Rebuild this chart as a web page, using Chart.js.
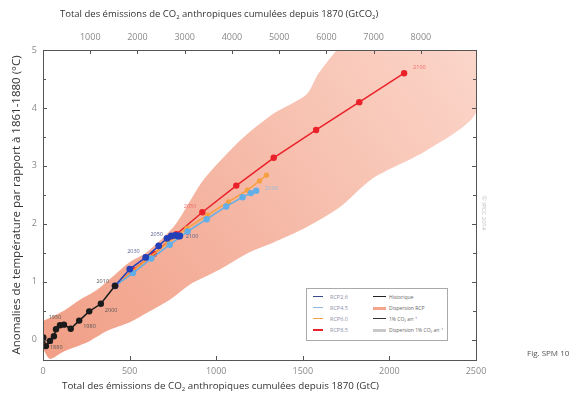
<!DOCTYPE html>
<html><head><meta charset="utf-8">
<script src="https://cdn.jsdelivr.net/npm/chart.js@4/dist/chart.umd.min.js"></script>
<style>
html,body{margin:0;padding:0;background:#fff;}
#wrap{position:relative;width:581px;height:393px;font-family:"Open Sans",sans-serif;overflow:hidden;}
#c{position:absolute;left:0;top:0;}
.ttl{position:absolute;font-size:9.5px;color:#333;white-space:nowrap;}
.ttl sub{font-size:6px;vertical-align:-2px;line-height:0;}
#legend{position:absolute;left:306px;top:288px;width:140px;height:51px;border:1px solid #aaa;background:#fff;font-size:5px;color:#666;}
.li{position:absolute;height:0;}
.lt{position:absolute;white-space:nowrap;line-height:6px;}
#fig{position:absolute;left:527px;top:347px;font-size:8px;color:#555;white-space:nowrap;}
#ipcc{position:absolute;left:478px;top:213px;font-size:6px;color:#bbb;white-space:nowrap;transform:translate(-50%,-50%) rotate(90deg);transform-origin:center;}
</style></head>
<body>
<div id="wrap">
<canvas id="c" width="581" height="393"></canvas>
<div class="ttl" style="left:60px;top:7px;">Total des émissions de CO<sub>2</sub> anthropiques cumulées depuis 1870 (GtCO<sub>2</sub>)</div>
<div class="ttl" style="left:62px;top:379px;font-size:9.8px;">Total des émissions de CO<sub>2</sub> anthropiques cumulées depuis 1870 (GtC)</div>
<div id="fig">Fig. SPM 10</div>
<div id="ipcc" style="left:484px;">© IPCC 2014</div>
<div id="legend"></div>
</div>
<script>
// ---------------- data ----------------
const histX = [2, 17, 40, 63, 75, 98, 121, 160, 209, 267, 334, 416];
const histY = [0.04, -0.11, -0.02, 0.06, 0.18, 0.25, 0.26, 0.19, 0.33, 0.49, 0.62, 0.93];
const histLabels = ['', '1880', '', '', '1950', '', '', '', '1980', '', '2000', '2010'];

const rcp26X = [416, 501, 593, 668, 716, 741, 764, 780, 790];
const rcp26Y = [0.93, 1.22, 1.42, 1.62, 1.75, 1.79, 1.80, 1.79, 1.79];
const rcp26Labels = ['', '', '2030', '', '2050', '', '', '', '2100'];

const rcp45X = [416, 519, 625, 732, 835, 945, 1058, 1152, 1200, 1231];
const rcp45Y = [0.93, 1.15, 1.40, 1.64, 1.87, 2.08, 2.30, 2.46, 2.53, 2.57];
const rcp45Labels = ['', '', '', '', '', '', '', '', '', '2100'];

const rcp60X = [416, 515, 615, 720, 830, 950, 1070, 1180, 1250, 1290];
const rcp60Y = [0.93, 1.18, 1.42, 1.67, 1.92, 2.15, 2.38, 2.58, 2.74, 2.84];

const rcp85X = [416, 520, 640, 770, 920, 1116, 1332, 1577, 1826, 2085];
const rcp85Y = [0.93, 1.20, 1.48, 1.82, 2.20, 2.66, 3.14, 3.62, 4.10, 4.60];
const rcp85Labels = ['', '', '', '', '2050', '', '', '', '', '2100'];

const bandX = [0, 115, 213, 311, 403, 501, 599, 760, 922, 1135, 1325, 1521, 1596, 1780, 2500, 2500,
               2212, 1901, 1711, 1521, 1325, 1192, 1020, 847, 732, 616, 501, 369, 259, 115, 40, 0];
const bandY = [0.32, 0.49, 0.69, 0.86, 1.09, 1.34, 1.51, 1.97, 2.74, 3.43, 3.89, 4.23, 4.62, 5.2, 5.5, 3.92,
               3.26, 2.78, 2.28, 1.94, 1.67, 1.51, 1.21, 0.95, 0.69, 0.49, 0.30, 0.15, -0.04, -0.21, -0.33, -0.16];

const xTicks = [0, 500, 1000, 1500, 2000, 2500];
const topTicks = [1000, 2000, 3000, 4000, 5000, 6000, 7000, 8000];
const yTicks = [0, 1, 2, 3, 4, 5];
const GTC_TO_GTCO2 = 44 / 12;

const legendLeft = [
  {text: 'RCP2.6', color: '#3b4a8c', w: 1.5},
  {text: 'RCP4.5', color: '#8fb8dc', w: 1.5},
  {text: 'RCP6.0', color: '#f5a34a', w: 1.5},
  {text: 'RCP8.5', color: '#e8232b', w: 2}
];
const legendRight = [
  {text: 'Historique', color: '#222', w: 1.5},
  {text: 'Dispersion RCP', color: '#f4a58e', w: 3},
  {text: '1% CO₂ an⁻¹', color: '#333', w: 1},
  {text: 'Dispersion 1% CO₂ an⁻¹', color: '#c8c8c8', w: 3}
];

// ---------------- helpers ----------------
const pts = (xs, ys) => xs.map((x, i) => ({x: x, y: ys[i]}));

// legend (HTML)
(function(){
  const lg = document.getElementById('legend');
  const rows = [7, 18, 29, 40];
  legendLeft.forEach((it, i) => {
    lg.insertAdjacentHTML('beforeend',
      `<div class="li" style="left:6px;top:${rows[i]}px;width:10px;border-top:${it.w}px solid ${it.color}"></div>` +
      `<div class="lt" style="left:23px;top:${rows[i]-2.5}px;font-size:5.5px;color:#8a8fa8">${it.text}</div>`);
  });
  legendRight.forEach((it, i) => {
    lg.insertAdjacentHTML('beforeend',
      `<div class="li" style="left:66px;top:${rows[i]}px;width:13px;border-top:${it.w}px solid ${it.color}"></div>` +
      `<div class="lt" style="left:82px;top:${rows[i]-2.5}px">${it.text}</div>`);
  });
})();

// frame, inward ticks and year labels
const decorPlugin = {
  id: 'decor',
  afterDatasetsDraw(chart) {
    const c = chart.ctx, a = chart.chartArea;
    const sx = chart.scales.x, sy = chart.scales.y, st = chart.scales.x2;
    c.save();
    c.font = '5.5px "Open Sans"';
    c.textBaseline = 'middle';
    const lab = (xs, ys, labels, color, off) => {
      labels.forEach((t, i) => {
        if (!t) return;
        const o = off[t] || [4, 0, 'left'];
        c.fillStyle = color;
        c.textAlign = o[2];
        c.fillText(t, sx.getPixelForValue(xs[i]) + o[0], sy.getPixelForValue(ys[i]) + o[1]);
      });
    };
    lab(histX, histY, histLabels, '#555', {'1880': [4, 1, 'left'], '1950': [-1, -12, 'center'], '1980': [4, 6, 'left'], '2000': [4, 7, 'left'], '2010': [-6, -4, 'right']});
    lab(rcp26X, rcp26Y, rcp26Labels, '#5a5f90', {'2030': [-6, -6, 'right'], '2050': [-4, -4, 'right'], '2100': [6, 0, 'left']});
    lab(rcp45X, rcp45Y, rcp45Labels, '#8cbbe6', {'2100': [9, -2, 'left']});
    lab(rcp85X, rcp85Y, rcp85Labels, '#ee6a6a', {'2050': [-6, -6, 'right'], '2100': [9, -6, 'left']});

    c.strokeStyle = '#555';
    c.lineWidth = 1;
    c.strokeRect(Math.round(a.left) + 0.5, Math.round(a.top) + 0.5, Math.round(a.right - a.left), Math.round(a.bottom - a.top));
    c.beginPath();
    xTicks.forEach(v => { const p = Math.round(sx.getPixelForValue(v)) + 0.5; c.moveTo(p, a.bottom); c.lineTo(p, a.bottom - 4); });
    topTicks.forEach(v => { const p = Math.round(st.getPixelForValue(v)) + 0.5; c.moveTo(p, a.top); c.lineTo(p, a.top + 4); });
    for (let v = 0; v <= 5; v += 0.5) {
      const p = Math.round(sy.getPixelForValue(v)) + 0.5;
      const L = (v % 1 === 0) ? 4 : 3;
      c.moveTo(a.left, p); c.lineTo(a.left + L, p);
      c.moveTo(a.right, p); c.lineTo(a.right - L, p);
    }
    c.stroke();
    c.restore();
  }
};

const line = (label, data, color, order, r) => ({
  label, data, order, showLine: true,
  borderColor: color, backgroundColor: color, borderWidth: 1.5,
  pointRadius: r, pointBorderWidth: 0, pointBackgroundColor: color
});

const tickFont = {family: 'Open Sans', size: 9};
const plain = v => String(v);

new Chart(document.getElementById('c'), {
  type: 'scatter',
  data: {
    datasets: [
      {
        label: 'Dispersion RCP', data: pts(bandX, bandY), order: 10, showLine: true,
        fill: 'shape', tension: 0.25, pointRadius: 0, borderWidth: 0, borderColor: 'rgba(0,0,0,0)',
        backgroundColor: (ctx) => {
          const a = ctx.chart.chartArea;
          if (!a) return 'rgb(245,180,160)';
          const g = ctx.chart.ctx.createLinearGradient(a.left, a.bottom, a.right, a.top);
          g.addColorStop(0, 'rgb(241,158,133)');
          g.addColorStop(0.45, 'rgb(245,182,163)');
          g.addColorStop(1, 'rgb(251,214,202)');
          return g;
        }
      },
      line('RCP8.5', pts(rcp85X, rcp85Y), '#ea2129', 5, 3.2),
      line('RCP6.0', pts(rcp60X, rcp60Y), '#f6a040', 4, 2.6),
      line('RCP4.5', pts(rcp45X, rcp45Y), '#62aee8', 3, 3.2),
      line('RCP2.6', pts(rcp26X, rcp26Y), '#2340b8', 2, 3.4),
      line('Historique', pts(histX, histY), '#1b1b1b', 1, 3.2)
    ]
  },
  options: {
    responsive: false, animation: false,
    layout: {padding: {left: 0, right: 105, top: 0, bottom: 0}},
    plugins: {legend: {display: false}, tooltip: {enabled: false}},
    scales: {
      x: {
        type: 'linear', position: 'bottom', min: 0, max: 2500,
        afterBuildTicks: s => { s.ticks = xTicks.map(v => ({value: v})); },
        afterFit: s => { s.height = 33; },
        grid: {display: false, drawTicks: false}, border: {display: false},
        ticks: {padding: 6, color: '#8a8a8a', font: tickFont, callback: plain}
      },
      x2: {
        type: 'linear', position: 'top', min: 0, max: 2500 * GTC_TO_GTCO2,
        afterBuildTicks: s => { s.ticks = topTicks.map(v => ({value: v})); },
        afterFit: s => { s.height = 50; },
        grid: {display: false, drawTicks: false}, border: {display: false},
        ticks: {padding: 7, color: '#8a8a8a', font: tickFont, callback: plain}
      },
      y: {
        type: 'linear', min: -0.35, max: 5,
        afterBuildTicks: s => { s.ticks = yTicks.map(v => ({value: v})); },
        afterFit: s => { s.width = 43; },
        grid: {display: false, drawTicks: false}, border: {display: false},
        ticks: {padding: 6, color: '#8a8a8a', font: tickFont, callback: plain},
        title: {display: true, text: 'Anomalies de température par rapport à 1861-1880 (°C)',
                color: '#333', font: {family: 'Open Sans', size: 11.5}, padding: {top: 10, bottom: 0}}
      }
    }
  },
  plugins: [decorPlugin]
});
</script>
</body></html>
